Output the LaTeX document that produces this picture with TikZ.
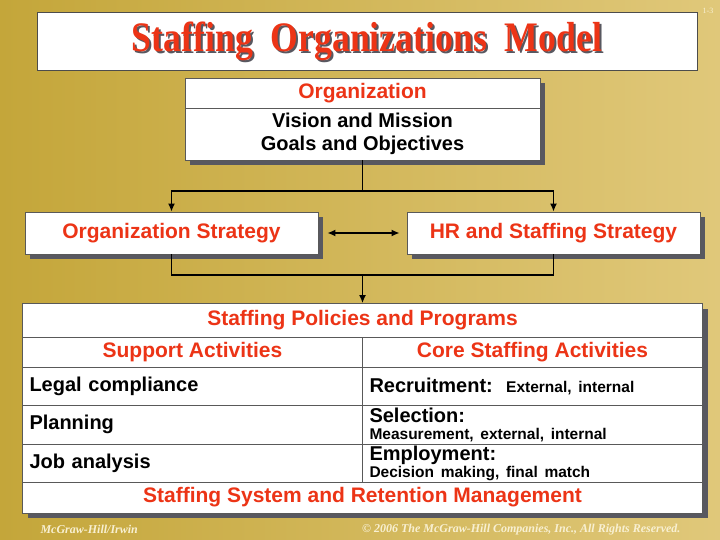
\documentclass[tikz,border=0pt]{standalone}
\usepackage{fontspec}
\setmainfont{Liberation Sans}
\newfontfamily\titlefont[FakeStretch=0.85]{Liberation Serif}
\newfontfamily\footfont{Liberation Serif}
\usetikzlibrary{arrows.meta,shadows}
\definecolor{gold}{RGB}{196,166,58}
\definecolor{goldlight}{RGB}{224,200,122}
\definecolor{slidered}{RGB}{236,52,22}
\definecolor{shade}{RGB}{88,88,96}
\definecolor{cream}{RGB}{248,240,210}
\tikzset{
  box/.style={draw=black!65, line width=0.7pt, fill=white, inner sep=0pt,
    drop shadow={shadow xshift=5pt, shadow yshift=-5pt, fill=shade, opacity=1}},
  head/.style={box, text=slidered, font=\fontsize{21}{23}\selectfont\bfseries},
  cell/.style={box, font=\fontsize{20}{21}\selectfont\bfseries, align=left,
    text width=#1, inner xsep=7pt},
  small/.style={font=\fontsize{15.5}{16}\selectfont\bfseries},
  link/.style={line width=1.6pt, -{Latex[length=8pt,width=7pt]}},
}
\begin{document}
\begin{tikzpicture}[x=1pt,y=-1pt]
  \shade[left color=gold, right color=goldlight] (0,0) rectangle (720,540);
  \useasboundingbox (0,0) rectangle (720,540);
  % title
  \node[draw=black!70, line width=0.8pt, fill=white, minimum width=660pt,
    minimum height=58pt] (titlebox) at (367,41) {};
  \node[text=shade, font=\titlefont\fontsize{42}{44}\selectfont\bfseries]
    at ([shift={(2,2)}]titlebox.center) {Staffing\ \ Organizations\ \ Model};
  \node[text=slidered, font=\titlefont\fontsize{42}{44}\selectfont\bfseries]
    (title) at (titlebox.center) {Staffing\ \ Organizations\ \ Model};
  \node[text=cream, font=\footfont\fontsize{8}{9}\selectfont] (slideno) at (708,11) {1-3};
  % organization
  \node[head, minimum width=355pt, minimum height=30pt] (orghead) at (362.5,93) {Organization};
  \node[box, minimum width=355pt, minimum height=52pt, align=center,
    font=\fontsize{20}{23}\selectfont\bfseries] (orgbody) at (362.5,134)
    {Vision and Mission\\Goals and Objectives};
  % strategies
  \node[head, minimum width=293pt, minimum height=42pt] (orgstrat) at (171.5,233) {Organization Strategy};
  \node[head, minimum width=293pt, minimum height=42pt] (hrstrat) at (553.5,233) {HR and Staffing Strategy};
  \coordinate (fork) at (362.5,191);
  \coordinate (join) at (362.5,275);
  \draw[line width=1.6pt] (orgbody) -- (fork);
  \draw[link] (fork) -| (orgstrat.north);
  \draw[link] (fork) -| (hrstrat.north);
  \draw[link, {Latex[length=8pt,width=7pt]}-{Latex[length=8pt,width=7pt]},
    shorten <=9pt, shorten >=7pt] (orgstrat) -- (hrstrat);
  \draw[line width=1.6pt] (orgstrat.south) |- (join) -| (hrstrat.south);
  % staffing table
  \node[head, minimum width=680pt, minimum height=34pt] (policies) at (362.5,320.5) {Staffing Policies and Programs};
  \node[head, minimum width=340pt, minimum height=30pt] (support) at (192.5,352) {Support Activities};
  \node[head, minimum width=340pt, minimum height=30pt] (core) at (532.5,352) {Core Staffing Activities};
  \node[cell=326pt, minimum height=38pt] (legal) at (192.5,386) {Legal compliance};
  \node[cell=326pt, minimum height=38pt] (recruit) at (532.5,386)
    {Recruitment:\ \ {\fontsize{15.5}{16}\selectfont External, internal}};
  \node[cell=326pt, minimum height=39pt] (planning) at (192.5,424.5) {Planning};
  \node[cell=326pt, minimum height=39pt] (selection) at (532.5,424.5)
    {Selection:\\[-4pt]{\fontsize{15.5}{16}\selectfont Measurement, external, internal}};
  \node[cell=326pt, minimum height=38pt] (jobanal) at (192.5,463) {Job analysis};
  \node[cell=326pt, minimum height=38pt] (employ) at (532.5,463)
    {Employment:\\[-4pt]{\fontsize{15.5}{16}\selectfont Decision making, final match}};
  \node[head, minimum width=680pt, minimum height=31pt] (retention) at (362.5,497.5)
    {Staffing System and Retention Management};
  \draw[link] (join) -- (policies.north);
  % footer
  \node[text=cream, anchor=west, font=\footfont\fontsize{12}{14}\selectfont\bfseries\itshape] (publisher) at (37,529) {McGraw-Hill/Irwin};
  \node[text=cream, anchor=east, font=\footfont\fontsize{12}{14}\selectfont\bfseries\itshape] (copyright) at (684,530)
    {\textcopyright\ 2006 The McGraw-Hill Companies, Inc., All Rights Reserved.};
\end{tikzpicture}
\end{document}
